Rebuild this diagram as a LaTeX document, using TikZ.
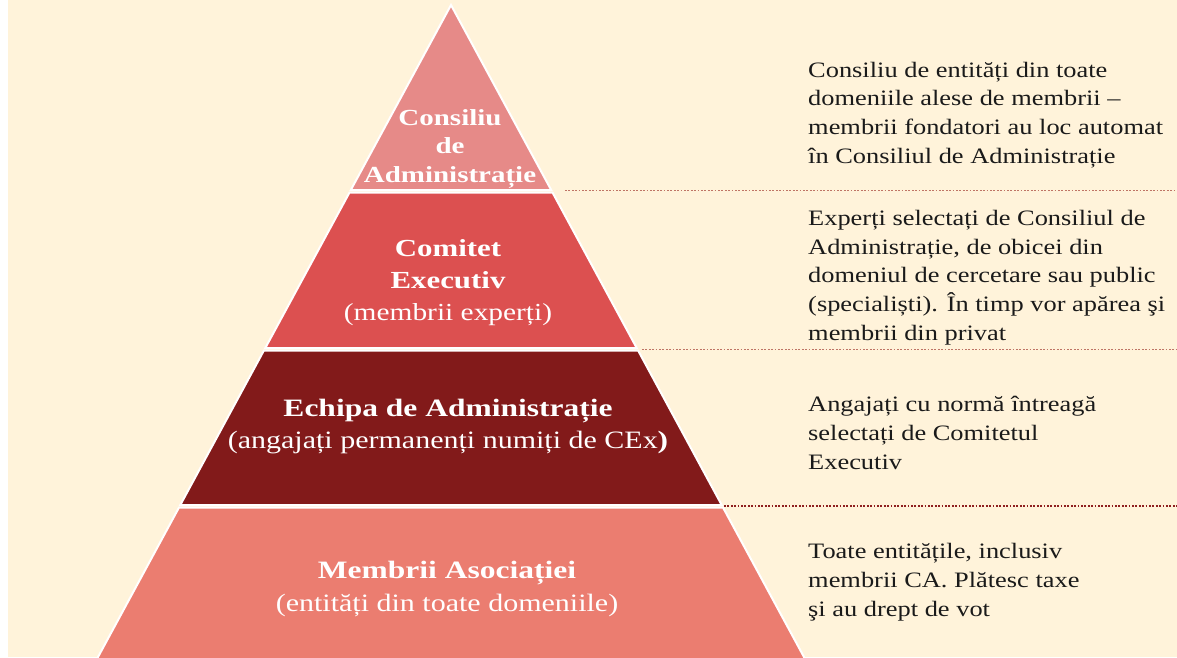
\documentclass[tikz,border=0pt]{standalone}
\usepackage{fontspec}
\setmainfont{Liberation Serif}[FakeStretch=1.2, BoldFeatures={FakeStretch=1.26}]
\definecolor{bgcream}{HTML}{FFF3DA}
\definecolor{layA}{HTML}{E68A88}
\definecolor{layB}{HTML}{DC5050}
\definecolor{layC}{HTML}{821A1A}
\definecolor{layD}{HTML}{EB7D70}
\definecolor{dotlight}{HTML}{BF7465}
\definecolor{dotdark}{HTML}{8E1F1F}
\definecolor{txt}{HTML}{1A1A1A}
\begin{document}
\begin{tikzpicture}[x=1pt,y=-1pt,
  layer/.style={draw=white,line width=2pt,line join=miter},
  sepline/.style={line width=1.5pt,dash pattern=on 1.8pt off 1.6pt},
  pyrtext/.style={text=white,align=center,anchor=base,inner sep=0pt},
  sidetext/.style={text=txt,align=left,anchor=base west,inner sep=0pt,
    font=\fontsize{22}{28.6}\selectfont}]
\useasboundingbox (0,0) rectangle (1177,657);
\fill[white] (0,0) rectangle (1177,657);
\fill[bgcream] (8,0) rectangle (1177,657);
% pyramid layers
\begin{scope}
\clip (8,0) rectangle (1177,657);
\filldraw[layer,fill=layA] (451,5) -- (551.2,190) -- (350.8,190) -- cycle;
\filldraw[layer,fill=layB] (349.5,192.5) -- (552.5,192.5) -- (636.7,348) -- (265.3,348) -- cycle;
\filldraw[layer,fill=layC] (263.9,350.5) -- (638.1,350.5) -- (721.7,505) -- (180.3,505) -- cycle;
\filldraw[layer,fill=layD] (179,507.5) -- (723,507.5) -- (805.6,660) -- (96.4,660) -- cycle;
\end{scope}
% separator lines
\coordinate (s1a) at (565,190.5);  \coordinate (s1b) at (1177,190.5);
\coordinate (s2a) at (642,349.5);  \coordinate (s2b) at (1177,349.5);
\coordinate (s3a) at (724,506);    \coordinate (s3b) at (1177,506);
\draw[sepline,dotlight] (s1a) -- (s1b);
\draw[sepline,dotlight] (s2a) -- (s2b);
\draw[sepline,dotdark] (s3a) -- (s3b);
% pyramid texts (anchor = baseline of last line)
\node[pyrtext,font=\fontsize{23}{28.5}\selectfont] (t1) at (450,182)
  {\textbf{Consiliu}\\\textbf{de}\\\textbf{Administrație}};
\node[pyrtext,font=\fontsize{24.5}{32}\selectfont] (t2) at (448,320)
  {\textbf{Comitet}\\\textbf{Executiv}\\(membrii experți)};
\node[pyrtext,font=\fontsize{25}{32}\selectfont] (t3) at (448,448)
  {\textbf{Echipa de Administrație}\\(angajați permanenți numiți de CEx\textbf{)}};
\node[pyrtext,font=\fontsize{25}{33}\selectfont] (t4) at (447,611)
  {\textbf{Membrii Asociației}\\(entități din toate domeniile)};
% side texts (anchor = baseline of last line)
\node[sidetext] (d1) at (808,163)
  {Consiliu de entități din toate\\domeniile alese de membrii –\\membrii fondatori au loc automat\\în Consiliul de Administrație};
\node[sidetext] (d2) at (808,340)
  {Experți selectați de Consiliul de\\Administrație, de obicei din\\domeniul de cercetare sau public\\(specialiști). În timp vor apărea şi\\membrii din privat};
\node[sidetext] (d3) at (808,469)
  {Angajați cu normă întreagă\\selectați de Comitetul\\Executiv};
\node[sidetext] (d4) at (808,616)
  {Toate entitățile, inclusiv\\membrii CA. Plătesc taxe\\şi au drept de vot};
\end{tikzpicture}
\end{document}
